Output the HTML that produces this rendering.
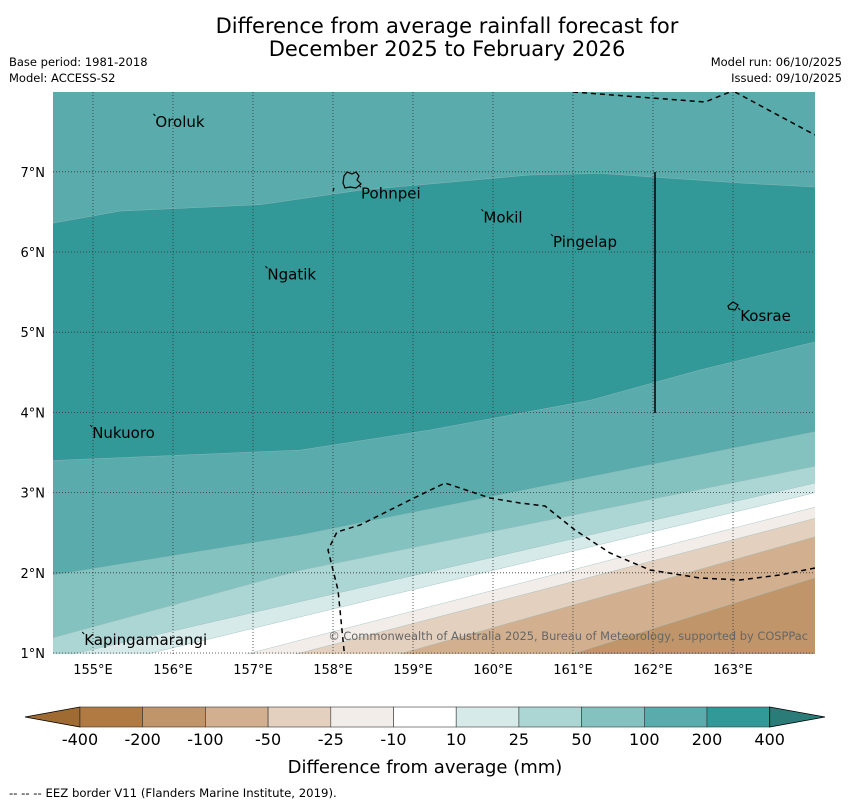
<!DOCTYPE html>
<html><head><meta charset="utf-8">
<style>
body{margin:0;background:#fff;font-family:"DejaVu Sans","Liberation Sans",sans-serif;}
svg text{font-family:"DejaVu Sans","Liberation Sans",sans-serif;}
</style></head>
<body>
<svg id="chart" width="850" height="804" xmlns="http://www.w3.org/2000/svg">
<text x="447" y="33" font-size="21" text-anchor="middle">Difference from average rainfall forecast for</text>
<text x="447" y="56" font-size="21" text-anchor="middle">December 2025 to February 2026</text>
<text x="9" y="66" font-size="11.5">Base period: 1981-2018</text>
<text x="9" y="82" font-size="11.5">Model: ACCESS-S2</text>
<text x="842" y="66" font-size="11.5" text-anchor="end">Model run: 06/10/2025</text>
<text x="842" y="82" font-size="11.5" text-anchor="end">Issued: 09/10/2025</text>
<defs><clipPath id="mapclip"><rect x="53" y="92" width="762" height="562"/></clipPath></defs>
<g id="map" clip-path="url(#mapclip)"></g>
<g id="cbar"></g>
<text x="425" y="773" font-size="18" text-anchor="middle">Difference from average (mm)</text>
<text x="9" y="797" font-size="11.7">--  --  -- EEZ border V11 (Flanders Marine Institute, 2019).</text>
</svg>
<script>
const levels=[200,200,100,50,25,10,-10,-25,-50,-100];
const bandColors=["#329898","#5aabab","#84c2c0","#acd6d4","#d6eae9","#ffffff","#f2ede9","#e4d0be","#d2b08f","#c0956a"];
const boundaryLons=[
 [154.5,155.34,157.09,158.34,160.46,161.34,163.09,164.03],
 [154.5,157.59,159.21,161.21,162.59,164.03],
 [154.5,157.59,164.03],
 [154.5,157.59,164.03],
 [154.5,157.59,164.03],
 [154.5,157.59,164.03],
 [154.5,157.59,164.03],
 [154.5,157.59,164.03],
 [154.5,158.84,164.03],
 [154.5,161.0,164.03]];
const boundaryLats=[
 [6.36,6.51,6.59,6.77,6.96,6.98,6.86,6.81],
 [3.40,3.53,3.78,4.15,4.53,4.88],
 [1.97,2.47,3.76],
 [1.19,2.03,3.33],
 [0.93,1.64,3.12],
 [0.70,1.45,3.0],
 [0.36,1.16,2.82],
 [0.3,1.0,2.68],
 [-0.2,0.99,2.45],
 [-1.0,0.99,1.94]];
const lonTicks=[155,156,157,158,159,160,161,162,163];
const latTicks=[1,2,3,4,5,6,7];
const cbarLabels=["-400","-200","-100","-50","-25","-10","10","25","50","100","200","400"];
const cbarColors=["#b07a42","#c0956a","#d2b08f","#e4d0be","#f2ede9","#ffffff","#d6eae9","#acd6d4","#84c2c0","#5aabab","#329898"];
const places=[["Oroluk",155.78,7.56],["Pohnpei",158.35,6.67],["Mokil",159.88,6.37],["Pingelap",160.75,6.06],["Ngatik",157.18,5.66],["Kosrae",163.09,5.14],["Nukuoro",154.99,3.68],["Kapingamarangi",154.89,1.10]];
const X=lon=>53+(lon-154.5)*80;
const Y=lat=>653-(lat-1)*80.2;
const NS="http://www.w3.org/2000/svg";
function mk(tag,attrs,parent){const e=document.createElementNS(NS,tag);for(const k in attrs)e.setAttribute(k,attrs[k]);parent.appendChild(e);return e;}
const map=document.getElementById('map');
const bg=mk('rect',{x:53,y:92,width:762,height:562,fill:"#5aabab"},map);


for(let i=0;i<levels.length;i++){
 let d="M"+boundaryLons[i].map((lo,j)=>X(lo)+","+Y(boundaryLats[i][j])).join(" L");
 d+=" L900,"+Y(boundaryLats[i][boundaryLats[i].length-1])+" L900,800 L0,800 L0,"+Y(boundaryLats[i][0])+" Z";
 const p=mk('path',{d:d,fill:bandColors[i],stroke:"#9bb",'stroke-width':0.4},map);
 
 
}
lonTicks.forEach(lo=>{const l=mk('line',{x1:X(lo),x2:X(lo),y1:92,y2:654,stroke:"#333",'stroke-width':0.8,'stroke-dasharray':"1,2"},map);
 });
latTicks.forEach(la=>{const l=mk('line',{x1:53,x2:815,y1:Y(la),y2:Y(la),stroke:"#333",'stroke-width':0.8,'stroke-dasharray':"1,2"},map);
 });
["M573,92 L705,102 L735,90","M735,92 L815,135","M345,660 L338,590 L328,550 L337,532 L360,525 L410,500 L445,483 L490,498 L520,503 L545,506 L575,530 L610,553 L650,570 L700,578 L740,580 L780,575 L815,568"].forEach(d=>{
 const e=mk('path',{d:d,fill:"none",stroke:"#000",'stroke-width':1.5,'stroke-dasharray':"5,4"},map);
 });
const vl=mk('line',{x1:655,x2:655,y1:172,y2:413,stroke:"#000",'stroke-width':1.5},map);

const isl=mk('path',{d:"M344,176 L347,172 L352,174 L356,172 L359,176 L357,180 L361,184 L356,188 L350,187 L345,188 L343,183 Z M334,188 L333,191",fill:"none",stroke:"#000",'stroke-width':1.2},map);

const kos=mk('path',{d:"M728,306 L733,302 L738,305 L735,310 L729,309 Z",fill:"none",stroke:"#000",'stroke-width':1.2},map);

places.forEach(p=>{const t=mk('text',{x:X(p[1]),y:Y(p[2]),'font-size':15,fill:"#000"},map);t.textContent=p[0];
 
 const m=mk('line',{x1:X(p[1])-2,y1:Y(p[2])-13,x2:X(p[1]),y2:Y(p[2])-11,stroke:"#000",'stroke-width':1},map);
 });
const cr=mk('text',{x:808,y:640,'font-size':11.4,fill:"#666",'text-anchor':"end"},map);cr.textContent="© Commonwealth of Australia 2025, Bureau of Meteorology, supported by COSPPac";

const svg=document.getElementById('chart');
lonTicks.forEach(lo=>{const t=mk('text',{x:X(lo),y:674,'font-size':13,'text-anchor':"middle"},svg);t.textContent=lo+"°E";
 });
latTicks.forEach(la=>{const t=mk('text',{x:45,y:Y(la)+5,'font-size':13,'text-anchor':"end"},svg);t.textContent=la+"°N";
 });
const cb=document.getElementById('cbar');
const cx0=80,cw=62.7,cy=707,ch=20;
const lt=mk('path',{d:`M${cx0},${cy} L25,${cy+ch/2} L${cx0},${cy+ch} Z`,fill:"#a06a33",stroke:"#000",'stroke-width':0.8},cb);

cbarColors.forEach((c,i)=>{const r=mk('rect',{x:cx0+i*cw,y:cy,width:cw,height:ch,fill:c,stroke:"#333",'stroke-width':0.6},cb);
 });
const ex=cx0+cbarColors.length*cw;
const rt=mk('path',{d:`M${ex},${cy} L825,${cy+ch/2} L${ex},${cy+ch} Z`,fill:"#2b7b78",stroke:"#000",'stroke-width':0.8},cb);

cbarLabels.forEach((l,i)=>{const t=mk('text',{x:cx0+i*cw,y:745,'font-size':16,'text-anchor':"middle"},cb);t.textContent=l;
 });
</script>
</body></html>
